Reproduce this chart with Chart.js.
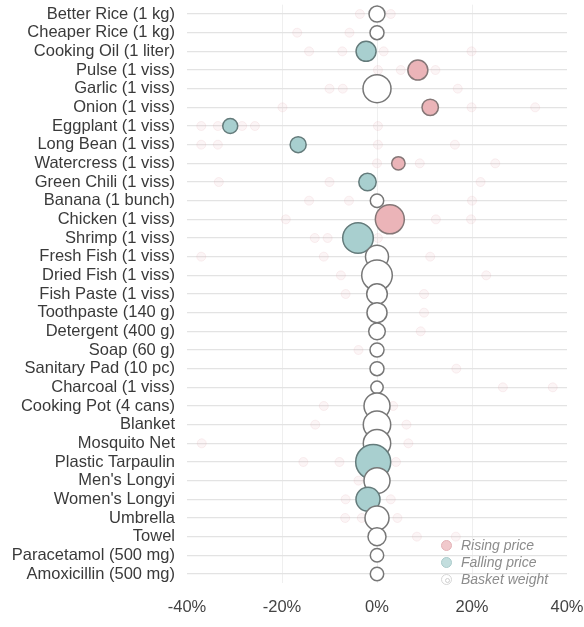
<!DOCTYPE html>
<html>
<head>
<meta charset="utf-8">
<script src="https://cdn.jsdelivr.net/npm/chart.js@4.4.1/dist/chart.umd.min.js"></script>
<style>
  html, body { margin: 0; padding: 0; background: #fff; }
  #wrap { position: relative; width: 584px; height: 627px; }
  #legend { position: absolute; left: 440px; top: 537px; font-family: "Liberation Sans", Arial, sans-serif; font-style: italic; font-size: 14px; color: #8c8c8c; }
  .item { position: relative; height: 17px; line-height: 17px; padding-left: 21px; white-space: nowrap; }
  .mk { position: absolute; left: 1px; top: 3px; width: 11px; height: 11px; border-radius: 50%; box-sizing: border-box; }
  .mk.rise { background: #f1c9cc; border: 1px solid #e3b3b7; }
  .mk.fall { background: #c3dede; border: 1px solid #aacaca; }
  .mk.base { background: #fff; border: 1px solid #d6d6d6; }
  .mk.base::after { content: ""; position: absolute; left: 3px; top: 3px; width: 3px; height: 3px; border-radius: 50%; border: 1px solid #d0d0d0; }
</style>
</head>
<body>
<div id="wrap">
  <canvas id="c" width="584" height="627"></canvas>
  <div id="legend">
    <div class="item"><span class="mk rise"></span>Rising price</div>
    <div class="item"><span class="mk fall"></span>Falling price</div>
    <div class="item"><span class="mk base"></span>Basket weight</div>
  </div>
</div>
<script>
// Categories (rows, top to bottom)
const categories = [
  "Better Rice (1 kg)", "Cheaper Rice (1 kg)", "Cooking Oil (1 liter)", "Pulse (1 viss)",
  "Garlic (1 viss)", "Onion (1 viss)", "Eggplant (1 viss)", "Long Bean (1 viss)",
  "Watercress (1 viss)", "Green Chili (1 viss)", "Banana (1 bunch)", "Chicken (1 viss)",
  "Shrimp (1 viss)", "Fresh Fish (1 viss)", "Dried Fish (1 viss)", "Fish Paste (1 viss)",
  "Toothpaste (140 g)", "Detergent (400 g)", "Soap (60 g)", "Sanitary Pad (10 pc)",
  "Charcoal (1 viss)", "Cooking Pot (4 cans)", "Blanket", "Mosquito Net",
  "Plastic Tarpaulin", "Men's Longyi", "Women's Longyi", "Umbrella", "Towel",
  "Paracetamol (500 mg)", "Amoxicillin (500 mg)"
];
// Average price change (%) per item
const priceChange = [
  0, 0, -2.3, 8.6, 0, 11.2, -30.9, -16.6, 4.5, -2.0, 0, 2.7, -4.0, 0, 0, 0,
  0, 0, 0, 0, 0, 0, 0, 0, -0.8, 0, -1.9, 0, 0, 0, 0
];
// Basket weight (bubble radius)
const basketWeight = [
  8, 7, 10, 10, 14, 8.2, 7.5, 8, 6.7, 8.7, 6.7, 14.5, 15.3, 11.5, 15.3, 10.3,
  10, 8.3, 7, 7, 6.2, 13, 13.7, 13.7, 17.5, 13, 12, 12, 9, 6.7, 6.7
];
// Individual market observations (faint dots): row index and change (%)
const marketRow = [
  0, 0, 1, 1, 2, 2, 2, 2, 3, 3, 3, 4, 4, 4, 5, 5, 5,
  6, 6, 6, 6, 6, 7, 7, 7, 7, 8, 8, 8, 9, 9, 9, 10, 10, 10,
  11, 11, 11, 12, 12, 12, 13, 13, 13, 14, 14, 15, 15, 16, 17, 18, 19,
  20, 20, 21, 21, 22, 22, 23, 23, 24, 24, 24, 25, 26, 26, 27, 27, 27, 28, 28
];
const marketChange = [
  -3.6, 2.9, -16.8, -5.8, -14.3, -7.3, 1.4, 19.9, 0.2, 5.0, 12.3, -10, -7.2, 17, -19.9, 19.9, 33.3,
  -37, -33.5, -28.4, -25.7, 0.2, -37, -33.5, 0.2, 16.4, 0, 9, 24.9, -33.3, -10, 21.8, -14.3, -5.9, 20,
  -19.2, 12.4, 19.8, -13.1, -10.4, 0.2, -37, -11.2, 11.2, -7.6, 23, -6.6, 9.9, 9.9, 9.2, -3.9, 16.7,
  26.5, 37, -11.2, 3.4, -13, 6.2, -36.9, 6.6, -15.5, -7.9, 4, -3.9, -6.6, 2.9, -6.7, -3.2, 4.3, 8.4, 16.6
];
const xTicks = [-40, -20, 0, 20, 40];

const mainData = categories.map((c, i) => ({ x: priceChange[i], y: c, r: basketWeight[i] }));
const marketData = marketRow.map((row, i) => ({ x: marketChange[i], y: categories[row], r: 4.5 }));

function fillFor(v) { return v > 0 ? '#ebb4b8' : (v < 0 ? '#a8cfcf' : '#ffffff'); }
function strokeFor(v) { return v > 0 ? '#857777' : (v < 0 ? '#647b7b' : '#777777'); }

new Chart(document.getElementById('c'), {
  type: 'bubble',
  data: {
    datasets: [
      {
        label: 'Items',
        data: mainData,
        backgroundColor: ctx => fillFor(priceChange[ctx.dataIndex]),
        borderColor: ctx => strokeFor(priceChange[ctx.dataIndex]),
        borderWidth: 1.5,
        clip: false,
        order: 0
      },
      {
        label: 'Markets',
        data: marketData,
        backgroundColor: 'rgba(232,160,170,0.11)',
        borderColor: 'rgba(220,160,170,0.15)',
        borderWidth: 1,
        clip: false,
        order: 1
      }
    ]
  },
  options: {
    responsive: false,
    animation: false,
    events: [],
    layout: { autoPadding: false, padding: { top: 4.7, right: 17, left: 0, bottom: 0 } },
    plugins: { legend: { display: false }, tooltip: { enabled: false } },
    scales: {
      x: {
        type: 'linear',
        min: -40, max: 40,
        afterBuildTicks: s => { s.ticks = xTicks.map(v => ({ value: v })); },
        afterFit: s => { s.height = 43.7; s.paddingLeft = 0; s.paddingRight = 0; },
        border: { display: false },
        grid: {
          drawTicks: false,
          color: ctx => (ctx.tick && Math.abs(ctx.tick.value) === 40) ? 'rgba(0,0,0,0)' : '#efefef',
          lineWidth: 1
        },
        ticks: {
          padding: 14,
          color: '#444',
          font: { family: '"Liberation Sans", Arial, sans-serif', size: 16.5 },
          callback: v => v + '%'
        }
      },
      y: {
        type: 'category',
        labels: categories,
        offset: true,
        afterFit: s => { s.width = 187; s.paddingTop = 0; s.paddingBottom = 0; },
        border: { display: false },
        grid: { drawTicks: false, color: '#e3e3e3', lineWidth: 1.3 },
        ticks: {
          autoSkip: false,
          padding: 12,
          color: '#3a3a3a',
          font: { family: '"Liberation Sans", Arial, sans-serif', size: 16.5, lineHeight: 1 }
        }
      }
    }
  }
});
</script>
</body>
</html>
